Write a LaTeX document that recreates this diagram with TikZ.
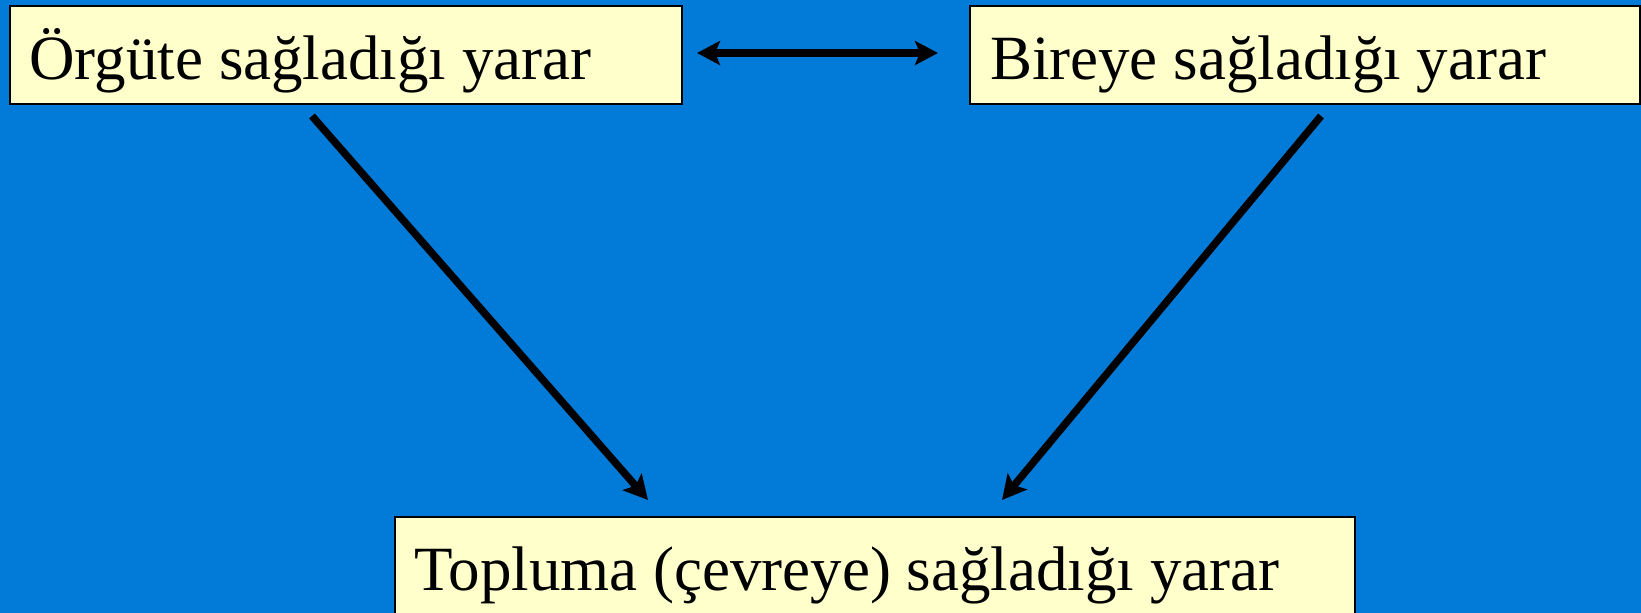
\documentclass[tikz,border=0pt]{standalone}
\usepackage{fontspec}
\setmainfont{Liberation Serif}
\usetikzlibrary{arrows.meta}
\definecolor{bgblue}{RGB}{2,123,216}
\definecolor{boxyellow}{RGB}{255,255,204}
\tikzset{
  box/.style={draw=black, line width=2pt, fill=boxyellow, rectangle, anchor=north west,
    inner xsep=20pt, inner ysep=0pt, text height=49.5pt, text depth=0pt,
    minimum height=97.6pt, align=flush left, font=\fontsize{63}{70}\selectfont},
  conn/.style={line width=7.5pt, -{Stealth[length=24pt, width=25pt, inset=5pt]}},
  dconn/.style={line width=7.5pt, {Stealth[length=23pt, width=24pt, inset=5pt]}-{Stealth[length=23pt, width=24pt, inset=5pt]}}
}
\begin{document}
\begin{tikzpicture}[x=1pt, y=-1pt]
\fill[bgblue] (0,0) rectangle (1641,613);
\useasboundingbox (0,0) rectangle (1641,613);
\node[box, text width=632pt] (org) at (8.5,5) {Örgüte sağladığı yarar};
\node[box, text width=630pt] (bir) at (969,5) {Bireye sağladığı yarar};
\node[box, text width=920pt] (top) at (393.5,516) {Topluma (çevreye) sağladığı yarar};
\coordinate (d1) at (697,53);
\coordinate (d2) at (938,53);
\coordinate (a1s) at (312,116);
\coordinate (a1e) at (648,500);
\coordinate (a2s) at (1321,116);
\coordinate (a2e) at (1002,500);
\draw[dconn] (d1) -- (d2);
\draw[conn] (a1s) -- (a1e);
\draw[conn] (a2s) -- (a2e);
\end{tikzpicture}
\end{document}
